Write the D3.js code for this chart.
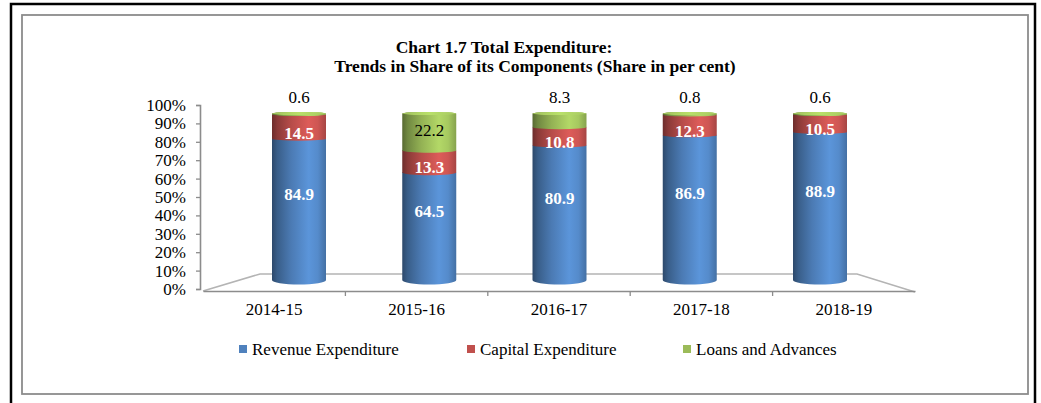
<!DOCTYPE html>
<html>
<head>
<meta charset="utf-8">
<script src="https://cdn.jsdelivr.net/npm/d3@7"></script>
<style>
    body { margin: 0; background: #fff; }
    text { font-family: "Liberation Serif", "Times New Roman", serif; }
</style>
</head>
<body>
<div id="chart"></div>
<script>
// chart values
var years = ['2014-15', '2015-16', '2016-17', '2017-18', '2018-19'];
var revenue = [84.9, 64.5, 80.9, 86.9, 88.9];
var capital = [14.5, 13.3, 10.8, 12.3, 10.5];
var loans = [0.6, 22.2, 8.3, 0.8, 0.6];
var seriesNames = ['Revenue Expenditure', 'Capital Expenditure', 'Loans and Advances'];
var seriesColors = ['#4F81BD', '#C0504D', '#9BBB59'];
var yTicks = [0, 10, 20, 30, 40, 50, 60, 70, 80, 90, 100];
var titleLines = ['Chart 1.7 Total Expenditure:', 'Trends in Share of its Components (Share in per cent)'];

var width = 1041,
    height = 403;

var svg = d3.select('#chart')
    .append('svg')
    .attr('width', width)
    .attr('height', height);

var defs = svg.append('defs');

// cylinder shading, dark left edge, light band right of centre
seriesColors.forEach(function (c, i) {
    var base = d3.color(c);
    var grad = defs.append('linearGradient')
        .attr('id', 'grad' + i)
        .attr('x1', 0).attr('x2', 1).attr('y1', 0).attr('y2', 0);
    [[0, base.darker(1.6)], [0.1, base.darker(0.9)], [0.35, base.darker(0.15)], [0.68, base.brighter(0.4)],
     [0.85, base.brighter(0.2)], [1, base.darker(0.4)]].forEach(function (s) {
        grad.append('stop').attr('offset', s[0]).attr('stop-color', s[1]);
    });
    var cap = defs.append('linearGradient')
        .attr('id', 'cap' + i)
        .attr('x1', 0).attr('x2', 1).attr('y1', 0).attr('y2', 0);
    [[0, base.brighter(0.1)], [0.5, base.brighter(0.5)], [1, base.brighter(0.2)]].forEach(function (s) {
        cap.append('stop').attr('offset', s[0]).attr('stop-color', s[1]);
    });
});

// frame
svg.append('path')
    .attr('d', 'M11,403 L11,4 L1035,4 L1035,403')
    .attr('fill', 'none')
    .attr('stroke', '#000')
    .attr('stroke-width', 2.5);
svg.append('rect')
    .attr('x', 22).attr('y', 15)
    .attr('width', 1006).attr('height', 379)
    .attr('fill', 'none')
    .attr('stroke', '#8c8c8c')
    .attr('stroke-width', 1.8);

// title
svg.selectAll('.title')
    .data(titleLines)
    .enter()
    .append('text')
    .attr('class', 'title')
    .attr('x', function (d, i) { return i === 0 ? 504 : 535; })
    .attr('y', function (d, i) { return i === 0 ? 53 : 72; })
    .attr('text-anchor', 'middle')
    .attr('font-size', '17.5px')
    .attr('font-weight', 'bold')
    .text(function (d) { return d; });

// scales
var yAxisScale = d3.scaleLinear().domain([0, 100]).range([289, 105]);
var yBar = d3.scaleLinear().domain([0, 100]).range([280, 113.5]);
var ryScale = d3.scaleLinear().domain([0, 100]).range([4.5, 1.6]);
var xFront = d3.scaleBand().domain(years).range([203, 915]);
var xBar = d3.scalePoint().domain(years).range([299, 820]);
var barR = 27;

// floor outline
var floorLine = d3.line();
svg.append('path')
    .attr('d', floorLine([[203, 291], [260, 274], [857, 274], [915, 292]]))
    .attr('fill', 'none')
    .attr('stroke', '#b4b4b4')
    .attr('stroke-width', 1.6);

// y axis
var yAxis = svg.append('g')
    .attr('transform', 'translate(200,0)')
    .call(d3.axisLeft(yAxisScale)
        .tickValues(yTicks)
        .tickSize(4)
        .tickPadding(10)
        .tickFormat(function (d) { return d + '%'; }));
yAxis.select('.domain').attr('stroke', '#8c8c8c').attr('stroke-width', 1.6);
yAxis.selectAll('.tick line').attr('stroke', '#8c8c8c').attr('stroke-width', 1.3);
yAxis.selectAll('.tick text')
    .attr('font-family', '"Liberation Serif", "Times New Roman", serif')
    .attr('font-size', '17px')
    .attr('fill', '#000');

// x axis, ticks between categories
var xAxis = svg.append('g')
    .attr('transform', 'translate(0,291)')
    .call(d3.axisBottom(xFront).tickSize(0).tickPadding(12));
xAxis.select('.domain').attr('stroke', '#8c8c8c').attr('stroke-width', 1.6);
xAxis.selectAll('.tick text')
    .attr('font-family', '"Liberation Serif", "Times New Roman", serif')
    .attr('font-size', '17px')
    .attr('fill', '#000');
xAxis.selectAll('.sep')
    .data(years.slice(1))
    .enter()
    .append('line')
    .attr('x1', function (d) { return xFront(d); })
    .attr('x2', function (d) { return xFront(d); })
    .attr('y1', 0)
    .attr('y2', 5)
    .attr('stroke', '#8c8c8c')
    .attr('stroke-width', 1.3);

// stacked segments
var table = years.map(function (y, i) {
    return { year: y, values: [revenue[i], capital[i], loans[i]] };
});
var segments = [];
table.forEach(function (row) {
    var acc = 0;
    row.values.forEach(function (v, s) {
        segments.push({ year: row.year, series: s, value: v, y0: acc, y1: acc + v });
        acc += v;
    });
    row.total = acc;
});

var segPath = function (d) {
    var cx = xBar(d.year),
        yb = yBar(d.y0), yt = yBar(d.y1),
        rb = ryScale(d.y0), rt = ryScale(d.y1);
    return 'M' + (cx - barR) + ',' + yt +
        'L' + (cx - barR) + ',' + yb +
        'A' + barR + ',' + rb + ' 0 0 0 ' + (cx + barR) + ',' + yb +
        'L' + (cx + barR) + ',' + yt +
        'A' + barR + ',' + rt + ' 0 0 0 ' + (cx - barR) + ',' + yt + 'Z';
};

var bars = svg.append('g');
bars.selectAll('path.seg')
    .data(segments)
    .enter()
    .append('path')
    .attr('class', 'seg')
    .attr('d', segPath)
    .attr('fill', function (d) { return 'url(#grad' + d.series + ')'; });

// top caps
bars.selectAll('ellipse.cap')
    .data(table)
    .enter()
    .append('ellipse')
    .attr('class', 'cap')
    .attr('cx', function (d) { return xBar(d.year); })
    .attr('cy', function (d) { return yBar(d.total); })
    .attr('rx', barR)
    .attr('ry', function (d) { return ryScale(d.total); })
    .attr('fill', 'url(#cap2)');

// data labels
var labelY = function (d) {
    var mid = (yBar(d.y0) + yBar(d.y1)) / 2;
    if (d.series === 0) return mid - 15;
    if (d.series === 1) return mid + 6;
    if (d.value < 10) return yBar(d.y1) - 16;
    return mid - 2;
};
svg.append('g')
    .selectAll('text')
    .data(segments)
    .enter()
    .append('text')
    .attr('x', function (d) { return xBar(d.year); })
    .attr('y', labelY)
    .attr('dy', '0.35em')
    .attr('text-anchor', 'middle')
    .attr('font-size', '17px')
    .attr('font-weight', function (d) { return d.series === 2 ? 'normal' : 'bold'; })
    .attr('fill', function (d) { return d.series === 2 ? '#000' : '#fff'; })
    .text(function (d) { return d.value.toFixed(1); });

// legend
var legendX = [239, 467, 683];
var legend = svg.append('g')
    .selectAll('g')
    .data(seriesNames)
    .enter()
    .append('g')
    .attr('transform', function (d, i) { return 'translate(' + legendX[i] + ',345)'; });
legend.append('rect')
    .attr('width', 8)
    .attr('height', 8)
    .attr('fill', function (d, i) { return seriesColors[i]; });
legend.append('text')
    .attr('x', 13)
    .attr('y', 9.5)
    .attr('font-size', '17px')
    .attr('fill', '#000')
    .text(function (d) { return d; });
</script>
</body>
</html>
